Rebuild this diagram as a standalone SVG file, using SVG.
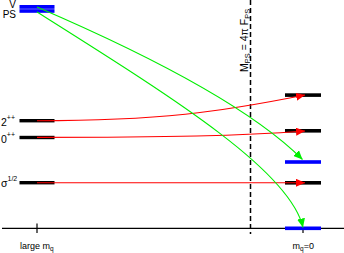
<svg xmlns="http://www.w3.org/2000/svg" width="344" height="253" viewBox="0 0 344 253">
<defs>
<style>
text{font-family:"Liberation Sans",Arial,sans-serif;fill:#000}
.lbl{font-size:10.5px}
.vps{font-size:10px}
.sm{font-size:9px}
.bk{fill:#000}
.bl{fill:#0000ff}
.red{fill:none;stroke:#ff0000;stroke-width:1.1}
.grn{fill:none;stroke:#00ee00;stroke-width:1.1}
.ax{stroke:#000;stroke-width:1.2;fill:none}
.dash{stroke:#000;stroke-width:1.5;stroke-dasharray:5,3;fill:none}
</style>
<marker id="ar" markerUnits="userSpaceOnUse" markerWidth="10" markerHeight="8" refX="9" refY="4" orient="auto"><path d="M0,0 L9,4 L0,8 z" fill="#ff0000"/></marker>
<marker id="ag" markerUnits="userSpaceOnUse" markerWidth="10" markerHeight="8" refX="9" refY="4" orient="auto"><path d="M0,0 L9,4 L0,8 z" fill="#00ee00"/></marker>
</defs>
<rect width="344" height="253" fill="#fff"/>
<g id="axis">
<line class="ax" x1="2" y1="228.3" x2="344" y2="228.3"/>
<line class="ax" x1="37" y1="223.5" x2="37" y2="233"/>
<line class="ax" x1="303" y1="228.3" x2="303" y2="233"/>
<text class="sm" x="20" y="249">large m<tspan font-size="6.5" dy="2">q</tspan></text>
<text class="sm" x="292.5" y="249">m<tspan font-size="6.5" dy="2">q</tspan><tspan dy="-2">=0</tspan></text>
</g>
<g id="threshold">
<line class="dash" x1="250.5" y1="0" x2="250.5" y2="234"/>
<text class="lbl" transform="rotate(-90 248 72)" x="248" y="72">M<tspan font-size="7.5" dy="2">PS</tspan><tspan dy="-2"> = 4π F</tspan><tspan font-size="7.5" dy="2">PS</tspan></text>
</g>
<g id="node-vps">
<rect class="bl" x="19.5" y="5" width="35" height="3.8"/>
<rect class="bl" x="19.5" y="9.2" width="35" height="3.6"/>
<text class="vps" x="16" y="8.2" text-anchor="end">V</text>
<text class="vps" x="16" y="18.4" text-anchor="end">PS</text>
</g>
<g id="node-2pp-heavy">
<rect class="bk" x="19.5" y="119" width="35" height="3.4"/>
<text class="lbl" x="1" y="126">2<tspan font-size="7" dy="-6">++</tspan></text>
</g>
<g id="node-0pp-heavy">
<rect class="bk" x="19.5" y="135.8" width="35" height="3.4"/>
<text class="lbl" x="1" y="142.5">0<tspan font-size="7" dy="-6">++</tspan></text>
</g>
<g id="node-sigma-heavy">
<rect class="bk" x="19.5" y="181" width="35" height="3.4"/>
<text class="lbl" x="1" y="187">σ<tspan font-size="7" dy="-6">1/2</tspan></text>
</g>
<g id="node-2pp-chiral"><rect class="bk" x="285" y="93.3" width="36" height="3.6"/></g>
<g id="node-0pp-chiral"><rect class="bk" x="285" y="129" width="36" height="3.6"/></g>
<g id="node-v-chiral"><rect class="bl" x="285" y="160.2" width="36" height="3.6"/></g>
<g id="node-sigma-chiral"><rect class="bk" x="285" y="181" width="36" height="3.6"/></g>
<g id="node-ps-chiral"><rect class="bl" x="285" y="226.5" width="36" height="3.6"/></g>
<g id="connectors">
<path class="red" d="M37,120.7 C160,120.7 220,112 305,95" marker-end="url(#ar)"/>
<path class="red" d="M37,137.4 C170,137.4 240,136 305,131" marker-end="url(#ar)"/>
<path class="red" d="M37,182.8 L305,182.8" marker-end="url(#ar)"/>
<path class="grn" d="M37,7 Q235,92 302.5,159.5" marker-end="url(#ag)"/>
<path class="grn" d="M37,12 C170,96 290,170 303,227.5" marker-end="url(#ag)"/>
</g>
</svg>
